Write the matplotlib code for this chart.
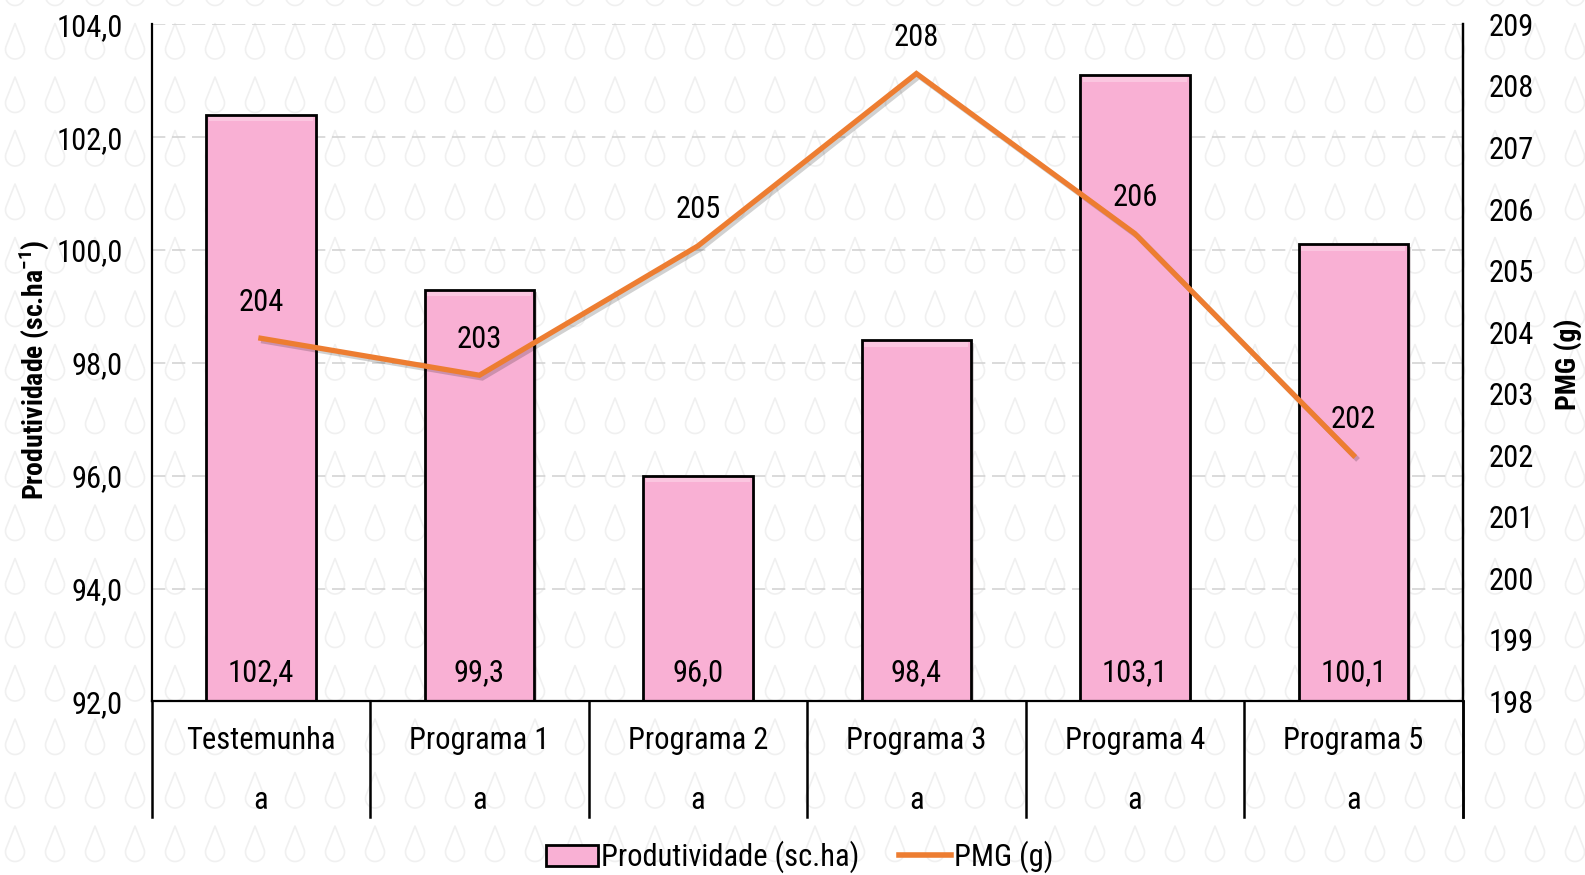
import matplotlib
matplotlib.use("Agg")
import matplotlib.pyplot as plt
from matplotlib import font_manager
from matplotlib.patches import Rectangle, Patch
from matplotlib.lines import Line2D
from matplotlib.collections import PolyCollection
import matplotlib.patheffects as pe
import numpy as np

# ---- data ----
categories = ["Testemunha", "Programa 1", "Programa 2", "Programa 3", "Programa 4", "Programa 5"]
letters = ["a", "a", "a", "a", "a", "a"]
produtividade = [102.4, 99.3, 96.0, 98.4, 103.1, 100.1]
pmg = [203.9, 203.3, 205.4, 208.2, 205.6, 202.0]
left_ticks = [92, 94, 96, 98, 100, 102, 104]
right_ticks = list(range(198, 210))

PINK = "#F9B0D4"
PINK_LIGHT = "#FBC6E0"
ORANGE = "#ED7D31"

# ---- fonts ----
available = {f.name for f in font_manager.fontManager.ttflist}
base = "Liberation Sans"
for cand in ["Liberation Sans Narrow", "Arial Narrow", "Roboto Condensed", "Liberation Sans"]:
    if cand in available:
        base = cand
        break
plt.rcParams["font.family"] = [base, "DejaVu Sans"]
plt.rcParams["mathtext.fontset"] = "custom"
plt.rcParams["mathtext.rm"] = base
plt.rcParams["mathtext.bf"] = base + ":bold"

W, H = 1585, 875
fig = plt.figure(figsize=(W / 100, H / 100), dpi=100)

# ---- faint droplet wallpaper ----
bg = fig.add_axes([0, 0, 1, 1], zorder=0)
bg.set_xlim(0, W)
bg.set_ylim(H, 0)
bg.axis("off")
r, cy, tip = 9.5, 8.0, -18.0
theta = np.degrees(np.arccos(r / (cy - tip)))
phi = np.radians(np.linspace(theta, 360 - theta, 40))
drop = np.vstack([[0, tip], np.column_stack([r * np.sin(phi), cy - r * np.cos(phi)])])
polys = []
for yc in np.arange(-12, H + 40, 53.5):
    for xc in np.arange(15, W + 20, 40):
        polys.append(drop + [xc, yc])
bg.add_collection(PolyCollection(polys, facecolors="none", edgecolors="#f0f0f0", linewidths=1.2))

# ---- main axes ----
ax = fig.add_axes([0.0957, 0.1983, 0.8271, 0.7739], zorder=2)
ax.patch.set_visible(False)
x = np.arange(len(categories))
ax.set_xlim(-0.5, len(categories) - 0.5)
ax.set_ylim(92, 104)
ax.set_yticks(left_ticks)
ax.set_yticklabels([f"{v:.1f}".replace(".", ",") for v in left_ticks])
ax.set_xticks([])
ax.set_axisbelow(True)
ax.yaxis.grid(True, linestyle=(0, (8, 4)), color="#d4d4d4", linewidth=1.2)
ax.tick_params(axis="y", length=0, pad=21, labelsize=22)

bar_w = 0.5
ax.bar(x, produtividade, width=bar_w, color=PINK, edgecolor="black", linewidth=2.0,
       zorder=2,
       path_effects=[pe.SimplePatchShadow(offset=(2, -2), alpha=0.2), pe.Normal()])
# bevel highlight along the top of each bar
hl = 0.08
for xi, v in zip(x, produtividade):
    ax.add_patch(Rectangle((xi - bar_w / 2 + 0.012, v - hl - 0.035), bar_w - 0.024, hl,
                           facecolor=PINK_LIGHT, edgecolor="none", zorder=2.1))
for xi, v in zip(x, produtividade):
    ax.annotate(f"{v:.1f}".replace(".", ","), (xi, 92), xytext=(0, 21),
                textcoords="offset points", ha="center", va="center", fontsize=22, zorder=3)

ax.spines["top"].set_visible(False)
for s in ["left", "bottom", "right"]:
    ax.spines[s].set_linewidth(1.6)
    ax.spines[s].set_color("black")

# category separators running below the axis
xt = ax.get_xaxis_transform()
for b in np.arange(-0.5, len(categories), 1.0):
    ax.plot([b, b], [0, -0.170], transform=xt, color="black", lw=1.8, clip_on=False)
for xi, c, l in zip(x, categories, letters):
    ax.text(xi, -0.058, c, transform=xt, ha="center", va="center", fontsize=22)
    ax.text(xi, -0.146, l, transform=xt, ha="center", va="center", fontsize=22)

ax.set_ylabel(r"Produtividade (sc.ha$^{\mathbf{-1}}$)", fontsize=20, fontweight="bold")
ax.yaxis.set_label_coords(-0.077, 0.49)

# ---- secondary axis: PMG ----
ax2 = ax.twinx()
ax2.set_zorder(3)
ax2.patch.set_visible(False)
ax2.set_ylim(198, 209)
ax2.set_yticks(right_ticks)
ax2.tick_params(axis="y", length=0, pad=19, labelsize=22)
for s in ["top", "left", "bottom"]:
    ax2.spines[s].set_visible(False)
ax2.spines["right"].set_linewidth(1.6)
ax2.plot(x, pmg, color=ORANGE, lw=3.8, solid_joinstyle="miter",
         path_effects=[pe.SimpleLineShadow(offset=(2, -2), alpha=0.18), pe.Normal()])
for xi, v in zip(x, pmg):
    ax2.annotate(f"{v:.0f}", (xi, v), xytext=(0, 26), textcoords="offset points",
                 ha="center", va="center", fontsize=22)
ax2.set_ylabel("PMG (g)", fontsize=20, fontweight="bold", rotation=90)
ax2.yaxis.set_label_coords(1.0695, 0.498)

# right spine continues down past the category rows
ax.plot([1, 1], [0, -0.170], transform=ax.transAxes, color="black", lw=1.8, clip_on=False)

# ---- legend ----
handles = [Patch(facecolor=PINK, edgecolor="black", linewidth=2.0),
           Line2D([], [], color=ORANGE, lw=4)]
fig.legend(handles, ["Produtividade (sc.ha)", "PMG (g)"], loc="center",
           bbox_to_anchor=(800 / W, 1 - 857 / H), ncol=2, frameon=False,
           fontsize=22, handlelength=1.7, handleheight=0.7, handletextpad=0.1,
           columnspacing=1.3)

fig.savefig("out.png", dpi=100)
